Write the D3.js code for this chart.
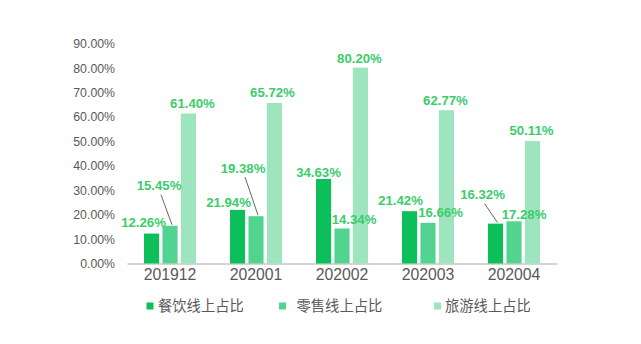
<!DOCTYPE html>
<html><head><meta charset="utf-8">
<script src="https://cdn.jsdelivr.net/npm/d3@7"></script>
<style>body{margin:0;background:#fff}svg{display:block}</style>
</head><body><svg id="c" width="641" height="344"></svg>
<script>
const categories = ["201912","202001","202002","202003","202004"];
const seriesNames = ["餐饮线上占比","零售线上占比","旅游线上占比"];
const dining = [12.26, 21.94, 34.63, 21.42, 16.32];
const retail = [15.45, 19.38, 14.34, 16.66, 17.28];
const travel = [61.40, 65.72, 80.20, 62.77, 50.11];
const yTicks = [0,10,20,30,40,50,60,70,80,90];
const seriesValues = [dining, retail, travel];
const colors = ["#0dbf5b","#52d490","#9ee4bf"];
// label offsets (text center relative to bar top center), [dx,dy, leader]
const labelLayout = [
  [[-8,-11,0],[-11,-40,1],[4,-10,0]],
  [[-9,-8,0],[-13,-48,1],[-2,-11,0]],
  [[-5,-7,0],[12,-9.5,0],[-1,-9,0]],
  [[-9,-11,0],[12.5,-10,0],[-1,-10,0]],
  [[-13,-29,1],[10,-7,0],[-1,-11,0]]
];

const svg = d3.select("#c");
const x0 = d3.scaleBand().domain(categories).range([127,557]);
const x1 = d3.scaleBand().domain([0,1,2]).range([-26,26]).paddingInner(0.18);
const y = d3.scaleLinear().domain([0,90]).range([263.5,43.7]);

// y axis labels
const yAxis = d3.axisLeft(y).tickValues(yTicks).tickSize(0).tickPadding(0).tickFormat(d=>d.toFixed(2)+"%");
const ya = svg.append("g").attr("transform","translate(115,0)").call(yAxis);
ya.select(".domain").remove();
ya.selectAll("text").attr("font-family","Liberation Sans, Arial, sans-serif").attr("font-size",12.3).attr("fill","#595959");

// x axis
const xAxis = d3.axisBottom(x0).tickSize(0).tickPadding(5);
const xa = svg.append("g").attr("transform","translate(0,263.5)").call(xAxis);
xa.select(".domain").attr("stroke","#d4d4d4").attr("stroke-width",2);
xa.selectAll("text").attr("font-family","Liberation Sans, Arial, sans-serif").attr("font-size",15.8).attr("fill","#595959");

// bars
categories.forEach((c,i)=>{
  const cx = x0(c)+x0.bandwidth()/2;
  seriesValues.forEach((vals,s)=>{
    svg.append("rect")
      .attr("x",cx+x1(s)).attr("width",x1.bandwidth())
      .attr("y",y(vals[i])).attr("height",y(0)-y(vals[i]))
      .attr("fill",colors[s]);
  });
});

// labels
categories.forEach((c,i)=>{
  const cx = x0(c)+x0.bandwidth()/2;
  seriesValues.forEach((vals,s)=>{
    const bx = cx+x1(s)+x1.bandwidth()/2, by = y(vals[i]);
    const [dx,dy,leader] = labelLayout[i][s];
    const tx = bx+dx, ty = by+dy;
    if(leader){
      svg.append("line").attr("x1",tx+(bx>tx?2:-2)).attr("y1",ty+9)
        .attr("x2",bx+2).attr("y2",by-1)
        .attr("stroke","#666").attr("stroke-width",1);
    }
    svg.append("text").attr("x",tx).attr("y",ty).attr("dy","0.35em")
      .attr("text-anchor","middle")
      .attr("font-family","Liberation Sans, Arial, sans-serif")
      .attr("font-weight","bold").attr("font-size",13.2)
      .attr("fill","#3ccc6c").text(vals[i].toFixed(2)+"%");
  });
});

// legend
const legX = [146.5, 279, 434];
const legTX = [158, 296.5, 445];
seriesNames.forEach((n,s)=>{
  svg.append("rect").attr("x",legX[s]).attr("y",302.5).attr("width",7).attr("height",7).attr("fill",colors[s]);
  svg.append("text").attr("x",legTX[s]).attr("y",306).attr("dy","0.35em")
    .attr("font-family","Noto Sans CJK SC, sans-serif").attr("font-size",14.3)
    .attr("fill","#595959").text(n);
});
</script></body></html>
